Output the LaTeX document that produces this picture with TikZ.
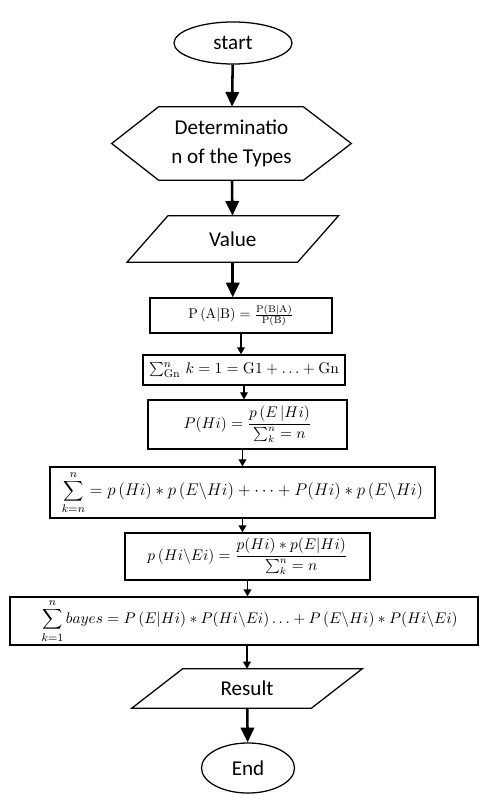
\documentclass[tikz,border=0pt]{standalone}
\usepackage[no-math]{fontspec}
\setmainfont{Carlito}
\usetikzlibrary{shapes.geometric,arrows.meta}

\begin{document}
\begin{tikzpicture}[x=0.025cm,y=-0.025cm,
  bigarrow/.style={-{Triangle[length=10.5pt,width=9.5pt]},line width=1.8pt},
  smallarrow/.style={-{Triangle[length=5pt,width=5.5pt]},line width=0.8pt},
  term/.style={draw,ellipse,line width=0.9pt,inner sep=0pt,font=\fontsize{15}{18}\selectfont},
  textbox/.style={rectangle,inner sep=0pt,align=center,font=\fontsize{15}{20.5}\selectfont},
  outline/.style={line width=0.9pt},
  formbox/.style={draw,rectangle,line width=0.9pt,inner sep=0pt}]
\useasboundingbox (0,0) rectangle (485,794);
\node[term,minimum width=2.95cm,minimum height=1.05cm] (start) at (233,43) {start};
\node[textbox,minimum width=5.975cm,minimum height=1.825cm] (types) at (231.5,143.5) {Determinatio\\n of the Types};
\node[textbox,minimum width=5.275cm,minimum height=1.15cm] (value) at (232.75,239) {Value};
\node[formbox,minimum width=4.55cm,minimum height=0.875cm,font=\fontsize{10}{12}\selectfont] (pab) at (241,315.5)
  {$\mathrm{P\,(A|B)} = \frac{\mathrm{P(B|A)}}{\mathrm{P(B)}}$};
\node[formbox,minimum width=5.05cm,minimum height=0.75cm,font=\fontsize{11}{13}\selectfont] (sumg) at (244,370)
  {$\sum_{\mathrm{Gn}}^{n}\, k = 1 = \mathrm{G1} + \ldots + \mathrm{Gn}$};
\node[formbox,minimum width=4.975cm,minimum height=1.225cm,font=\fontsize{10.5}{13}\selectfont] (phi) at (247.5,424.5)
  {$P(Hi) = \displaystyle\frac{p\,(E\,|Hi)}{\sum_{k}^{n} = n}$};
\node[formbox,minimum width=9.625cm,minimum height=1.275cm,font=\fontsize{11.7}{14}\selectfont] (sumk) at (242.5,492.5)
  {$\displaystyle\sum_{k=n}^{n} = p\,(Hi) * p\,(E\backslash Hi) + \cdots + P(Hi) * p\,(E\backslash Hi)$};
\node[formbox,minimum width=6.125cm,minimum height=1.175cm,font=\fontsize{10.5}{13}\selectfont] (phie) at (247.5,556.5)
  {$p\,(Hi\backslash Ei) = \displaystyle\frac{p(Hi) * p(E|Hi)}{\sum_{k}^{n} = n}$};
\node[formbox,minimum width=11.7cm,minimum height=1.2cm,font=\fontsize{11}{13}\selectfont] (bayes) at (244,621)
  {\hspace{8pt}$\displaystyle\sum_{k=1}^{n} bayes = P\,(E|Hi) * P(Hi\backslash Ei)\ldots + P\,(E\backslash Hi) * P(Hi\backslash Ei)$};
\node[textbox,minimum width=5.75cm,minimum height=0.975cm] (result) at (247,688.5) {Result};
\node[term,minimum width=2.325cm,minimum height=1.25cm] (end) at (248,768) {End};
% hexagon and parallelograms
\draw[outline] (types.west) -- ([xshift=1.175cm]types.north west) -- ([xshift=-1.2cm]types.north east)
  -- (types.east) -- ([xshift=-1.2cm]types.south east) -- ([xshift=1.175cm]types.south west) -- cycle;
\draw[outline] ([xshift=1.025cm]value.north west) -- (value.north east)
  -- ([xshift=-1.025cm]value.south east) -- (value.south west) -- cycle;
\draw[outline] ([xshift=1.275cm]result.north west) -- (result.north east)
  -- ([xshift=-1.275cm]result.south east) -- (result.south west) -- cycle;
\draw[bigarrow] (start) -- (types);
\draw[bigarrow] (types) -- (value);
\draw[bigarrow] (value) -- (value |- pab.north);
\draw[smallarrow] (pab.south) -- (pab.south |- sumg.north);
\draw[smallarrow] (sumg.south) -- (sumg.south |- phi.north);
\draw[smallarrow] (sumk.north |- phi.south) -- (sumk.north);
\draw[smallarrow] (sumk.south) -- (sumk.south |- phie.north);
\draw[smallarrow] (phie.south) -- (phie.south |- bayes.north);
\draw[smallarrow] (result.north |- bayes.south) -- (result.north);
\draw[bigarrow] (result) -- (end);
\end{tikzpicture}
\end{document}
